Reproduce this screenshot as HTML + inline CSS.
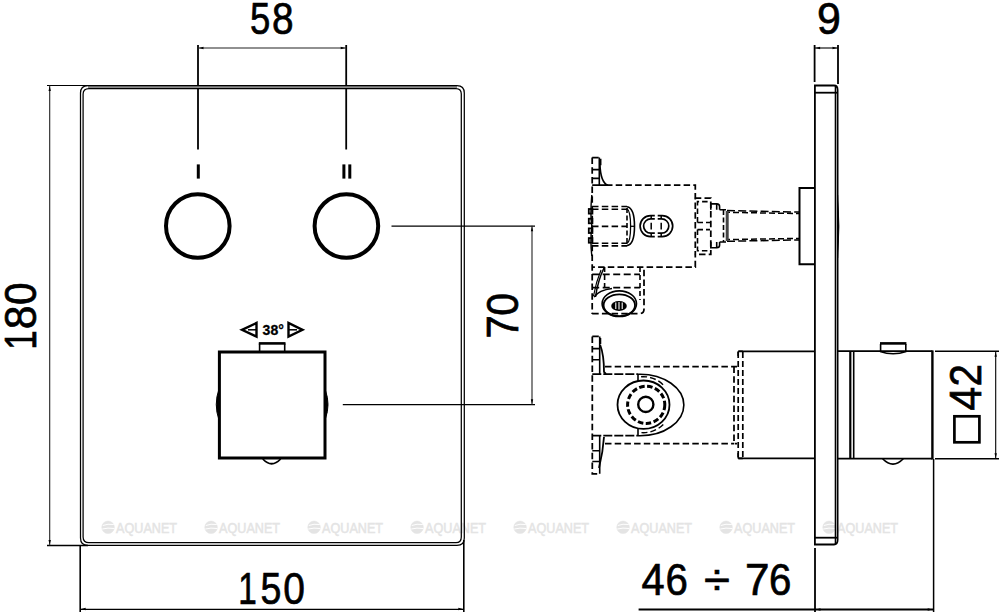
<!DOCTYPE html>
<html><head><meta charset="utf-8">
<style>
html,body{margin:0;padding:0;background:#fff;width:1000px;height:614px;overflow:hidden}
svg{display:block}
text{font-family:"Liberation Sans",sans-serif}
</style></head>
<body>
<svg width="1000" height="614" viewBox="0 0 1000 614">
<!-- watermarks -->
<g id="wm" fill="#e4e4e4" stroke="#e4e4e4" stroke-width="0.5">
<g transform="translate(101.75 0)"><circle cx="6.3" cy="527.3" r="6.3"/><path d="M1 525.5 Q6 523.5 12 524.5 M0.5 529 Q6 527.5 12.5 528.5" stroke="#fff" stroke-width="1" fill="none"/><text x="14.3" y="532.7" font-size="14.6" textLength="61" lengthAdjust="spacingAndGlyphs">AQUANET</text></g>
<g transform="translate(204.75 0)"><circle cx="6.3" cy="527.3" r="6.3"/><path d="M1 525.5 Q6 523.5 12 524.5 M0.5 529 Q6 527.5 12.5 528.5" stroke="#fff" stroke-width="1" fill="none"/><text x="14.3" y="532.7" font-size="14.6" textLength="61" lengthAdjust="spacingAndGlyphs">AQUANET</text></g>
<g transform="translate(307.75 0)"><circle cx="6.3" cy="527.3" r="6.3"/><path d="M1 525.5 Q6 523.5 12 524.5 M0.5 529 Q6 527.5 12.5 528.5" stroke="#fff" stroke-width="1" fill="none"/><text x="14.3" y="532.7" font-size="14.6" textLength="61" lengthAdjust="spacingAndGlyphs">AQUANET</text></g>
<g transform="translate(410.75 0)"><circle cx="6.3" cy="527.3" r="6.3"/><path d="M1 525.5 Q6 523.5 12 524.5 M0.5 529 Q6 527.5 12.5 528.5" stroke="#fff" stroke-width="1" fill="none"/><text x="14.3" y="532.7" font-size="14.6" textLength="61" lengthAdjust="spacingAndGlyphs">AQUANET</text></g>
<g transform="translate(513.75 0)"><circle cx="6.3" cy="527.3" r="6.3"/><path d="M1 525.5 Q6 523.5 12 524.5 M0.5 529 Q6 527.5 12.5 528.5" stroke="#fff" stroke-width="1" fill="none"/><text x="14.3" y="532.7" font-size="14.6" textLength="61" lengthAdjust="spacingAndGlyphs">AQUANET</text></g>
<g transform="translate(616.75 0)"><circle cx="6.3" cy="527.3" r="6.3"/><path d="M1 525.5 Q6 523.5 12 524.5 M0.5 529 Q6 527.5 12.5 528.5" stroke="#fff" stroke-width="1" fill="none"/><text x="14.3" y="532.7" font-size="14.6" textLength="61" lengthAdjust="spacingAndGlyphs">AQUANET</text></g>
<g transform="translate(719.75 0)"><circle cx="6.3" cy="527.3" r="6.3"/><path d="M1 525.5 Q6 523.5 12 524.5 M0.5 529 Q6 527.5 12.5 528.5" stroke="#fff" stroke-width="1" fill="none"/><text x="14.3" y="532.7" font-size="14.6" textLength="61" lengthAdjust="spacingAndGlyphs">AQUANET</text></g>
<g transform="translate(822.75 0)"><circle cx="6.3" cy="527.3" r="6.3"/><path d="M1 525.5 Q6 523.5 12 524.5 M0.5 529 Q6 527.5 12.5 528.5" stroke="#fff" stroke-width="1" fill="none"/><text x="14.3" y="532.7" font-size="14.6" textLength="61" lengthAdjust="spacingAndGlyphs">AQUANET</text></g>
</g>

<!-- ============ LEFT VIEW ============ -->
<g fill="none" stroke="#000">
  <!-- 58 dimension -->
  <line x1="198" y1="45" x2="198" y2="149.5" stroke-width="1.8"/>
  <line x1="346.2" y1="45" x2="346.2" y2="149.5" stroke-width="1.8"/>
  <line x1="198" y1="48" x2="346.2" y2="48" stroke-width="1.1" stroke="#222"/>
  <!-- 180 dimension -->
  <line x1="47" y1="85.5" x2="88" y2="85.5" stroke-width="1.2"/>
  <line x1="47" y1="545.4" x2="88" y2="545.4" stroke-width="1.5"/>
  <line x1="49.7" y1="85.5" x2="49.7" y2="545.4" stroke-width="1.1" stroke="#222"/>
  <!-- 150 dimension -->
  <line x1="80.2" y1="545" x2="80.2" y2="612" stroke-width="1.6"/>
  <line x1="463.8" y1="540" x2="463.8" y2="612" stroke-width="1.6"/>
  <line x1="80.2" y1="609.4" x2="463.8" y2="609.4" stroke-width="1.3"/>
  <!-- 70 dimension -->
  <line x1="391.5" y1="226.1" x2="535" y2="226.1" stroke-width="1.3"/>
  <line x1="342.8" y1="404.7" x2="535" y2="404.7" stroke-width="1.3"/>
  <line x1="532" y1="225.8" x2="532" y2="404.7" stroke-width="1.1" stroke="#222"/>
</g>

<!-- plate -->
<g fill="none" stroke="#000">
  <rect x="88" y="86" width="369" height="2" fill="#8c8c8c" stroke="none"/>
  <path d="M80.5 93 Q80.5 85.5 88 85.5 L457 85.5 Q464.3 85.5 464.3 93 L464.3 538 Q464.3 545.4 457 545.4 L88 545.4 Q80.5 545.4 80.5 538 Z" stroke-width="1.25"/>
  <path d="M83.1 94 Q83.1 88.5 89 88.5 L456 88.5 Q461.3 88.5 461.3 94 L461.3 537 Q461.3 542.7 456 542.7 L89 542.7 Q83.1 542.7 83.1 537 Z" stroke-width="1.25"/>
</g>
<!-- knobs -->
<g fill="none" stroke="#000" stroke-width="4">
  <circle cx="197.8" cy="226" r="31.8"/>
  <circle cx="346.4" cy="226" r="31.8"/>
</g>
<g fill="#000">
  <rect x="196.8" y="164.4" width="3" height="14.2"/>
  <rect x="342.4" y="164.4" width="3" height="14.2"/>
  <rect x="348.3" y="164.4" width="3" height="14.2"/>
</g>

<!-- thermostat square -->
<g fill="none" stroke="#000" stroke-width="3">
  <rect x="219.4" y="352" width="105.6" height="106"/>
  <path d="M259.6 351 L259.6 343.5 M284.7 351 L284.7 343.5" stroke-width="1.6"/><path d="M258.8 343.4 L285.5 343.4" stroke-width="2.6"/>
  <path d="M219 389 Q213.5 404.5 219 420 Z" fill="#000" stroke-width="1"/>
  <path d="M325.5 390.5 Q330.5 404.5 325.5 418.5 Z" fill="#000" stroke-width="1"/>
  <path d="M262.8 459 Q271.7 468.5 280.6 459" stroke-width="1.8"/>
</g>
<!-- 38 deg -->
<g fill="none" stroke="#000" stroke-width="2.4">
  <path d="M242 329.8 L256.5 323 L256.5 336.6 Z"/>
  <path d="M302.5 329.8 L288.5 323 L288.5 336.6 Z"/>
  <line x1="248" y1="329.8" x2="256" y2="329.8" stroke-width="1.5"/>
  <line x1="289" y1="329.8" x2="297" y2="329.8" stroke-width="1.5"/>
</g>
<text x="262.6" y="334.7" font-size="14" font-weight="bold" stroke="#000" stroke-width="0.3">38°</text>

<!-- dimension texts -->
<g font-size="45" fill="#000" stroke="#000" stroke-width="0.7">
<text transform="translate(250 34.2) scale(0.812 1)">5</text><text transform="translate(272 34.2) scale(0.861 1)">8</text>
<text transform="translate(238.3 604.2) scale(0.741 1)">1</text><text transform="translate(260.5 604.2) scale(0.834 1)">5</text><text transform="translate(283.3 604.2) scale(0.866 1)">0</text>
<text transform="translate(817 34.2) scale(0.954 1)">9</text>
<text transform="translate(641.6 595) scale(0.924 1)">4</text>
<text transform="translate(665.6 595) scale(0.894 1)">6</text>
<text transform="translate(703.9 595) scale(1.05 1)">÷</text>
<text transform="translate(745.1 595) scale(0.979 1)">7</text>
<text transform="translate(768.9 595) scale(0.894 1)">6</text>
<text transform="translate(35.8 349.8) rotate(-90) scale(0.775 1)">1</text><text transform="translate(35.8 329.2) rotate(-90) scale(0.949 1)">8</text><text transform="translate(35.8 305.1) rotate(-90) scale(0.902 1)">0</text>
<text transform="translate(517.5 338.6) rotate(-90) scale(0.931 1)">7</text><text transform="translate(517.5 315.7) rotate(-90) scale(0.912 1)">0</text>
<text transform="translate(981.3 410.8) rotate(-90) scale(0.959 1)">4</text><text transform="translate(981.3 386.5) rotate(-90) scale(0.898 1)">2</text>
</g>
<rect x="954.4" y="416.3" width="25" height="26" fill="none" stroke="#000" stroke-width="2.7"/>

<!-- ============ RIGHT VIEW ============ -->
<g fill="none" stroke="#000">
  <!-- 9 dimension -->
  <line x1="814.6" y1="45" x2="814.6" y2="82" stroke-width="1.8"/>
  <line x1="838" y1="45" x2="838" y2="84" stroke-width="1.8"/>
  <line x1="814.6" y1="48" x2="838" y2="48" stroke-width="1.1"/>
  <!-- side plate -->
  <path d="M814.9 544.5 L814.9 85.5 L834 85.5 Q837.6 85.5 837.6 90 L837.6 540 Q837.6 544.5 834 544.5 Z" stroke-width="1.8"/>
  <line x1="814.9" y1="92.7" x2="837.6" y2="92.7" stroke-width="1.8"/>
  <line x1="814.9" y1="537.7" x2="837.6" y2="537.7" stroke-width="1.8"/>
  <line x1="835.4" y1="86" x2="835.4" y2="544" stroke-width="1.4"/>
  <path d="M837.6 195 Q840.3 226.5 837.6 258 Z" fill="#000" stroke-width="0.8"/>
  <!-- escutcheon -->
  <path d="M815 188 L799.5 188 L799.5 264.3 L815 264.3" stroke-width="2"/>
  <!-- sleeve -->
  <path d="M815 351.3 L738.5 351.3 M738.5 458.4 L815 458.4" stroke-width="1.8"/>
  <!-- handle body -->
  <path d="M838 351.2 L932.4 351.2 M838 458.7 L932.4 458.7" stroke-width="1.8"/><line x1="932.4" y1="350.4" x2="932.4" y2="459.5" stroke-width="2.4"/>
  <line x1="850.3" y1="351.5" x2="850.3" y2="458.4" stroke-width="2.2"/>
  <line x1="853.7" y1="351.5" x2="853.7" y2="458.4" stroke-width="1.6"/>
  <path d="M880.6 351 L880.6 344 M905.8 351 L905.8 344" stroke-width="1.6"/><path d="M880 343.4 L906.4 343.4" stroke-width="2.6"/>
  <path d="M880.1 351.5 Q893 356 906.3 351.5" stroke-width="1.4"/>
  <path d="M882.6 458.8 Q893 469.5 903.3 458.8" stroke-width="1.6"/>
  <!-- 42 dimension -->
  <line x1="935" y1="351.2" x2="999" y2="351.2" stroke-width="1.6"/>
  <line x1="935" y1="458.7" x2="999" y2="458.7" stroke-width="1.6"/>
  <line x1="995.7" y1="351.2" x2="995.7" y2="458.7" stroke-width="1.1"/>
  <!-- bottom dimension -->
  <line x1="815" y1="548" x2="815" y2="612" stroke-width="1.8"/>
  <line x1="933.6" y1="459" x2="933.6" y2="612" stroke-width="1.5"/>
  <line x1="638.6" y1="609.5" x2="934" y2="609.5" stroke-width="1.8"/>
</g>

<!-- dashed hidden parts -->
<g fill="none" stroke="#000" stroke-width="1.75" stroke-dasharray="6.5 3.2">
  <!-- upper body -->
  <path d="M606 185.2 L695.3 185.2 L695.3 267.1 L592.2 267.1"/>
  <path d="M592.2 157.5 L592.2 314"/>
  <path d="M592.2 157.5 L600.6 157.5 L600.6 166"/>
  <!-- valve insert -->
  <path d="M592 206.5 L627 206.5 M592 209.2 L627 209.2 M592 243.2 L627 243.2 M592 245.9 L627 245.9" stroke-width="1.6" stroke-dasharray="6.5 3.3"/><path d="M592 226.3 L627 226.3" stroke-width="1.8" stroke-dasharray="6.5 3.3"/>
  <path d="M627 208 L627 245" stroke-width="1.6" stroke-dasharray="5 2.5"/>
  <!-- lower part of upper body -->
  <path d="M592.2 313.5 L640 313.5 Q644 313.5 644 309 L644 268"/>
  <path d="M592.2 274.3 L640 274.3 M592.2 287.5 L640 287.5" stroke-dasharray="7 3.5"/>
  <path d="M604.6 267 L604.6 290 M640 267 L640 300" stroke-width="1.6" stroke-dasharray="5 3"/>
  <!-- connectors -->
  <path d="M694.8 198 L710.8 198 L710.8 254.3 L694.8 254.3"/>
  <path d="M697.5 222.5 L697.5 201.6 L710 201.6 M697.5 222.5 L710 222.5 M697.5 229.6 L710 229.6 M697.5 229.6 L697.5 250.7 L710 250.7" stroke-width="1.6" stroke-dasharray="5.5 3"/>
  <path d="M723.5 210 L723.5 242" stroke-width="1.6" stroke-dasharray="5 2.5"/>
  <!-- pipe -->
  <path d="M727 210.6 L800 212.1 M727 241.3 L800 239.9" stroke-width="1.5" stroke-dasharray="8 3.2"/><path d="M727 212.3 L800 213.6 M727 239.6 L800 238.4" stroke-width="1.5" stroke-dasharray="6 3" stroke-dashoffset="3"/>
  <!-- lower assembly -->
  <path d="M592.3 336.4 L592.3 473.8 L600.4 473.8 M592.3 336.4 L600.4 336.4 L600.4 344"/>
  <path d="M605 366.6 L737 366.6 M734 366.6 L734 443.5 L737 443.5 M605 443.5 L734 443.5"/>
  <path d="M592.3 374.2 L638 374.2 M592.3 435.6 L638 435.6" stroke-width="1.8" stroke-dasharray="9 2"/>
  <path d="M738.2 352 L738.2 458 M742.8 352 L742.8 458" stroke-width="1.7" stroke-dasharray="6 3"/>
  <circle cx="646.2" cy="404.8" r="18.6" stroke-width="3" stroke-dasharray="5.5 2.5"/>
  <path d="M641.1 376.8 A28 28 0 0 1 663.3 384.9 M663.3 424.5 A28 28 0 0 1 641.1 432.6" stroke-width="1.4" stroke-dasharray="6 3"/>
</g>
<g fill="none" stroke="#000" stroke-width="1.6">
  <!-- upper flange details -->
  <path d="M599.3 157.5 L599.3 185.2 M592.2 169.6 L600 169.6 M592.2 178.4 L600 178.4"/>
  <path d="M599.8 163 Q600.5 183 608 185.2 M592.2 185.2 L606 185.2" stroke-width="1.7"/>
  <!-- thread bumps -->
  <path d="M591.8 195 Q590 215 591.8 226 Q590 240 591.8 256" stroke-width="1.4"/>
  <rect x="588.8" y="209" width="3.6" height="4.6" stroke-width="1.8"/>
  <rect x="588.8" y="218.7" width="3.6" height="4.6" stroke-width="1.8"/>
  <rect x="588.8" y="228.4" width="3.6" height="4.6" stroke-width="1.8"/>
  <rect x="588.8" y="238.1" width="3.6" height="4.6" stroke-width="1.8"/>
  <!-- insert cap -->
  <path d="M627 206.8 Q634.5 208 634.5 226.3 Q634.5 244.5 627 245.6"/>
  <path d="M627 208.8 Q630.6 211 630.6 226.3 Q630.6 241.6 627 243.5" stroke-width="1.3"/>
  <path d="M630.6 226.3 L634.5 226.3" stroke-width="1.3"/>
  <!-- stadium -->
  <path d="M654.8 215.6 L650.6 215.6 A10.5 10.5 0 0 0 650.6 236.6 L654.8 236.6 M657.7 215.6 L662.2 215.6 A10.5 10.5 0 0 1 662.2 236.6 L657.7 236.6" stroke-width="1.7"/>
  <path d="M654.8 218.9 L650.75 218.9 A7.15 7.15 0 0 0 650.75 233.2 L654.8 233.2 M657.7 218.9 L661.65 218.9 A7.15 7.15 0 0 1 661.65 233.2 L657.7 233.2" stroke-width="1.7"/>
  <path d="M651.2 215.6 L651.2 218.9 M651.2 222.7 L651.2 229.4 M651.2 233.2 L651.2 236.6 M661.2 215.6 L661.2 218.9 M661.2 222.7 L661.2 229.4 M661.2 233.2 L661.2 236.6" stroke-width="1.5"/>
  <!-- nut -->
  <path d="M719.6 209.8 L726 209.8 M719.6 242 L726 242" stroke-width="1.6"/>
  <path d="M710.8 209.8 L710.8 203.9 L716.8 203.9 Q719.6 203.9 719.6 206.7 L719.6 209.8 M716.7 204 L716.7 209.8 M710.8 242 L710.8 247.8 L716.8 247.8 Q719.6 247.8 719.6 245 L719.6 242 M716.7 242 L716.7 247.8" stroke-width="1.6"/>
  <line x1="727.2" y1="211" x2="727.2" y2="241" stroke="#444" stroke-width="3"/>
  <!-- lower part of upper body -->
  <path d="M604 268 Q598 280 595.5 297" stroke-width="1.5"/>
  <path d="M601 270 Q596 282 593.5 296" stroke-width="1.2"/>
  <path d="M594 297 Q599 290 612 288.5" stroke-width="1.5"/>
  <ellipse cx="619.3" cy="303.7" rx="17.2" ry="12.8" stroke-width="1.6"/>
  <ellipse cx="619.3" cy="305.3" rx="15.7" ry="10.9" stroke-width="1.8"/>
  <ellipse cx="619" cy="306" rx="7.8" ry="4.9" fill="#000" stroke="none"/>
  <path d="M615.8 302.5 L615.8 309 M619 302 L619 309.5 M622.2 302.5 L622.2 309" stroke="#fff" stroke-width="1.1"/>
  <!-- lower flange details -->
  <path d="M599.7 336.4 L599.7 374 M592.3 348.6 L600 348.6 M592.3 359.8 L600 359.8"/>
  <path d="M600.2 345 Q604 355 604 372 L606 374" stroke-width="1.8"/>
  <path d="M599.7 435.6 L599.7 473.8 M592.3 450.8 L600 450.8 M592.3 461.5 L600 461.5"/>
  <path d="M604 437 Q603 452 599 468" stroke-width="1.8"/>
  <!-- D shape and circles -->
  <path d="M638 374.2 L640 374.2 A43.7 30.7 0 0 1 640 435.8 L638 435.8"/>
  <path d="M638 374.2 L638 382 M638 428 L638 436"/>
  <ellipse cx="643.5" cy="404.7" rx="26" ry="24.2" stroke-width="1.8"/>
  <circle cx="645.8" cy="404.4" r="7.6" stroke-width="2.4"/>
  <!-- sleeve corners -->
  <path d="M738.2 351.3 L742.8 351.3 M738.2 458.4 L742.8 458.4 M738.2 351.3 L738.2 356 M738.2 458.4 L738.2 453"/>
</g>
<!-- arrowheads -->
<g fill="#000" stroke="none">
  <path d="M198.8 48 L203.5 46.8 L203.5 49.2 Z"/><path d="M345.4 48 L340.7 46.8 L340.7 49.2 Z"/>
  <path d="M49.7 86.3 L48.5 91 L50.9 91 Z"/><path d="M49.7 544.6 L48.5 539.9 L50.9 539.9 Z"/>
  <path d="M81 609 L85.7 607.8 L85.7 610.2 Z"/><path d="M463 609 L458.3 607.8 L458.3 610.2 Z"/>
  <path d="M532 226.6 L530.8 231.3 L533.2 231.3 Z"/><path d="M532 403.9 L530.8 399.2 L533.2 399.2 Z"/>
  <path d="M815.4 48 L820.1 46.8 L820.1 49.2 Z"/><path d="M837.2 48 L832.5 46.8 L832.5 49.2 Z"/>
  <path d="M995.7 352 L994.5 356.7 L996.9 356.7 Z"/><path d="M995.7 457.9 L994.5 453.2 L996.9 453.2 Z"/>
  <path d="M815.8 609.5 L820.5 608.3 L820.5 610.7 Z"/><path d="M932.4 609.5 L927.7 608.3 L927.7 610.7 Z"/>
</g>
</svg>
</body></html>
